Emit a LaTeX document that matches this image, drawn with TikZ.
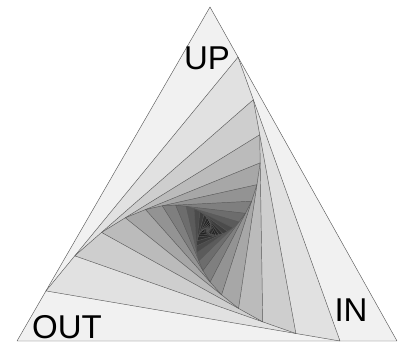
\documentclass[tikz,border=0pt]{standalone}
\usepackage{fontspec}
\setmainfont{Liberation Sans}
\usepackage{tikz}
\usetikzlibrary{calc}
\definecolor{EdgeGray}{RGB}{90, 90, 90}

\begin{document}
\begin{tikzpicture}[
    x=1pt, y=-1pt,
    layer/.style={
      fill=black,
      fill opacity=#1,
      draw=EdgeGray,
      line width=0.45pt,
      line join=round
    },
    corner label/.style={
      font=\fontsize{33}{33}\selectfont,
      inner sep=0pt
    }
  ]
  \useasboundingbox (0,0) rectangle (406,346);
  % outer triangle
  \coordinate (up0) at (210,7);
  \coordinate (in0) at (397,341);
  \coordinate (out0) at (17,341);
  % every next triangle sits 15% along the sides of the one before
  \foreach \k [remember=\k as \j (initially 0)] in {1,...,28} {
    \coordinate (up\k) at ($(up\j)!0.15!(in\j)$);
    \coordinate (in\k) at ($(in\j)!0.15!(out\j)$);
    \coordinate (out\k) at ($(out\j)!0.15!(up\j)$);
  }
  % darker towards the middle
  \foreach \k [evaluate=\k as \op using {min(0.055+0.013*\k,0.35)}] in {0,...,28}
    \filldraw[layer=\op] (up\k) -- (in\k) -- (out\k) -- cycle;
  % labels
  \node[corner label] (uplabel) at (207,58) {UP};
  \node[corner label] (outlabel) at (67,327) {OUT};
  \node[corner label] (inlabel) at (351,310) {IN};
\end{tikzpicture}
\end{document}
